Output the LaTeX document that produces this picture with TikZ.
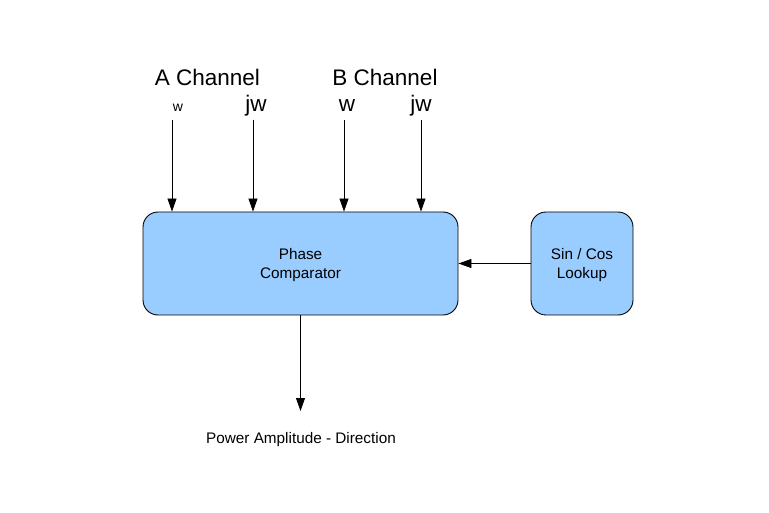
\documentclass[tikz,border=0pt]{standalone}
\usepackage{fontspec}
\setmainfont{Liberation Sans}
\usetikzlibrary{arrows.meta}
\definecolor{boxblue}{HTML}{99CCFF}
\tikzset{
  blk/.style={draw=black, fill=boxblue, rounded corners=15pt, line width=0.9pt, inner sep=0pt},
  arr/.style={-{Triangle[length=13pt,width=9pt]}, line width=0.8pt},
  big/.style={font=\fontsize{22.5}{25}\selectfont, inner sep=0pt},
  small/.style={font=\fontsize{15.3}{18}\selectfont, align=center, inner sep=0pt}
}
\begin{document}
\begin{tikzpicture}[x=1pt,y=-1pt]
\useasboundingbox (0,0) rectangle (769,513);
\node[blk, minimum width=315pt, minimum height=103pt] (pc) at (300.5,263.5) {};
\node[small] at (300.5,265) {Phase\\[1pt]Comparator};
\node[blk, minimum width=102pt, minimum height=103pt] (lk) at (582,263.5) {};
\node[small] at (582,265) {Sin / Cos\\[1pt]Lookup};
\node[big] (ach) at (207.5,77) {A Channel};
\node[big] (bch) at (385,77) {B Channel};
\node[font=\fontsize{14}{16}\selectfont, inner sep=0pt] (aw) at (178,108) {w};
\node[big] (ajw) at (256,106) {jw};
\node[big] (bw) at (347,106) {w};
\node[big] (bjw) at (421,106) {jw};
\coordinate (s1) at (172,120);
\coordinate (s2) at (253,120);
\coordinate (s3) at (344,120);
\coordinate (s4) at (421,120);
\draw[arr] (s1) -- (s1 |- pc.north);
\draw[arr] (s2) -- (s2 |- pc.north);
\draw[arr] (s3) -- (s3 |- pc.north);
\draw[arr] (s4) -- (s4 |- pc.north);
\draw[arr] (lk.west) -- (pc.east);
\coordinate (oe) at (300.5,411);
\draw[arr] (pc.south) -- (oe);
\node[font=\fontsize{15.3}{18}\selectfont, inner sep=0pt] (out) at (301,439.5) {Power Amplitude - Direction};
\end{tikzpicture}
\end{document}
